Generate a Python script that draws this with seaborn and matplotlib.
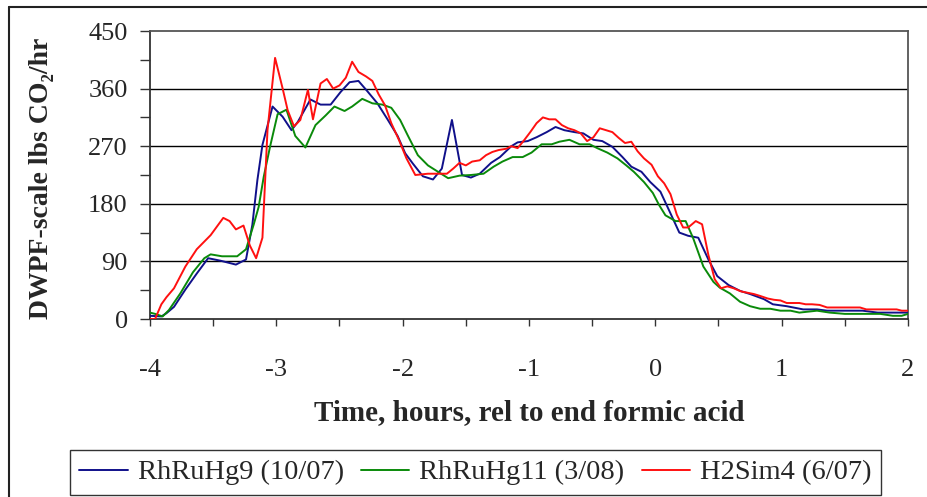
import numpy as np
import pandas as pd
import matplotlib
matplotlib.use("Agg")
import matplotlib.pyplot as plt
import seaborn as sns
from matplotlib.ticker import MultipleLocator
from matplotlib.lines import Line2D

# ---- data ----
series_names = ["RhRuHg9 (10/07)", "RhRuHg11 (3/08)", "H2Sim4 (6/07)"]
series_colors = ["#10108a", "#0a8a0a", "#ff1010"]

blue_x = [-4, -3.91, -3.87, -3.81, -3.72, -3.63, -3.54, -3.44, -3.32, -3.24,
          -3.19, -3.15, -3.11, -3.03, -2.95, -2.88, -2.83, -2.73, -2.65, -2.57,
          -2.49, -2.42, -2.35, -2.28, -2.20, -2.12, -2.04, -1.98, -1.92, -1.84,
          -1.76, -1.69, -1.61, -1.53, -1.46, -1.39, -1.30, -1.23, -1.14, -1.09,
          -1.01, -0.94, -0.86, -0.79, -0.72, -0.64, -0.57, -0.49, -0.42, -0.34,
          -0.26, -0.19, -0.11, -0.04, 0.04, 0.12, 0.19, 0.26, 0.34, 0.42,
          0.49, 0.58, 0.67, 0.75, 0.86, 0.93, 1.04, 1.17, 1.28, 1.36,
          1.64, 1.76, 2.0]
blue_y = [5, 4, 9, 19, 46, 71, 95, 91, 85, 93,
          147, 217, 272, 332, 316, 295, 308, 343, 335, 335,
          355, 370, 372, 356, 337, 312, 286, 259, 243, 223,
          218, 235, 311, 225, 221, 227, 244, 253, 270, 276,
          278, 284, 292, 300, 295, 292, 290, 280, 278, 269,
          253, 238, 230, 214, 199, 165, 135, 130, 127, 93,
          67, 53, 44, 39, 31, 23, 20, 15, 15, 13,
          13, 10, 10]

green_x = [-4, -3.96, -3.90, -3.85, -3.76, -3.66, -3.57, -3.52, -3.43, -3.31,
           -3.24, -3.18, -3.14, -3.10, -3.05, -2.99, -2.92, -2.85, -2.77, -2.69,
           -2.61, -2.54, -2.46, -2.40, -2.32, -2.24, -2.16, -2.09, -2.02, -1.96,
           -1.88, -1.80, -1.72, -1.64, -1.55, -1.46, -1.36, -1.28, -1.21, -1.13,
           -1.05, -0.98, -0.90, -0.82, -0.76, -0.68, -0.60, -0.52, -0.46, -0.38,
           -0.30, -0.23, -0.17, -0.09, -0.02, 0.03, 0.08, 0.16, 0.24, 0.30,
           0.38, 0.46, 0.51, 0.59, 0.67, 0.75, 0.83, 0.91, 0.99, 1.07,
           1.14, 1.28, 1.38, 1.50, 1.78, 1.88, 1.95, 2.0]
green_y = [10, 8, 4, 14, 40, 73, 95, 101, 98, 98,
           109, 147, 175, 222, 269, 320, 327, 286, 268, 303,
           318, 332, 325, 332, 344, 337, 335, 330, 311, 287,
           256, 240, 230, 220, 224, 225, 227, 238, 246, 253,
           253, 260, 273, 273, 277, 280, 273, 273, 267, 260,
           251, 240, 230, 214, 197, 178, 162, 153, 153, 126,
           82, 58, 49, 40, 27, 20, 16, 16, 13, 13,
           10, 13, 10, 8, 8, 5, 5, 8]

red_x = [-4, -3.96, -3.91, -3.87, -3.81, -3.72, -3.63, -3.52, -3.42, -3.37,
         -3.32, -3.26, -3.21, -3.16, -3.11, -3.07, -3.01, -2.95, -2.91, -2.86,
         -2.81, -2.75, -2.71, -2.65, -2.60, -2.55, -2.50, -2.45, -2.40, -2.35,
         -2.29, -2.24, -2.19, -2.14, -2.09, -2.03, -1.97, -1.90, -1.80, -1.73,
         -1.65, -1.60, -1.55, -1.50, -1.45, -1.39, -1.34, -1.29, -1.24, -1.18,
         -1.14, -1.09, -1.04, -0.99, -0.94, -0.89, -0.84, -0.79, -0.74, -0.69,
         -0.64, -0.59, -0.54, -0.49, -0.44, -0.39, -0.34, -0.29, -0.24, -0.19,
         -0.14, -0.09, -0.03, 0.02, 0.07, 0.12, 0.17, 0.22, 0.26, 0.32,
         0.37, 0.42, 0.47, 0.52, 0.57, 0.62, 0.68, 0.73, 0.78, 0.83,
         0.89, 0.94, 0.99, 1.04, 1.09, 1.14, 1.19, 1.24, 1.30, 1.36,
         1.49, 1.62, 1.67, 1.91, 1.95, 2.0]
red_y = [0, 0, 23, 34, 48, 82, 109, 131, 158, 153,
         140, 146, 115, 95, 127, 295, 408, 360, 326, 301,
         311, 358, 312, 368, 375, 360, 365, 377, 402, 386,
         379, 372, 351, 334, 306, 280, 251, 225, 227, 227,
         227, 235, 244, 240, 246, 248, 256, 261, 264, 266,
         270, 267, 279, 292, 306, 315, 312, 312, 303, 298,
         295, 290, 278, 284, 298, 295, 292, 283, 275, 277,
         262, 251, 241, 223, 212, 195, 163, 143, 143, 153,
         148, 100, 62, 48, 51, 48, 43, 41, 39, 36,
         32, 30, 29, 25, 25, 25, 23, 23, 22, 18,
         18, 18, 15, 15, 13, 13]

y_ticks = [0, 90, 180, 270, 360, 450]
x_ticks = [-4, -3, -2, -1, 0, 1, 2]
x_label = "Time, hours, rel to end formic acid"
y_label = "DWPF-scale lbs CO\u2082/hr"

frames = []
for name, xs, ys in zip(series_names, [blue_x, green_x, red_x], [blue_y, green_y, red_y]):
    frames.append(pd.DataFrame({"time": xs, "value": ys, "series": name}))
df = pd.concat(frames, ignore_index=True)

# ---- style ----
sns.set_style("white")
plt.rcParams["font.family"] = ["Liberation Serif", "DejaVu Serif"]

W, H = 927, 497
fig = plt.figure(figsize=(W / 100, H / 100), dpi=100)
ax = fig.add_axes([150 / W, 1 - 319 / H, (908 - 150) / W, (319 - 31) / H])

sns.lineplot(data=df, x="time", y="value", hue="series", hue_order=series_names,
             palette=dict(zip(series_names, series_colors)), estimator=None,
             sort=False, linewidth=1.4, ax=ax, legend=False, zorder=3)

ax.set_xlim(-4, 2)
ax.set_ylim(0, 450)
ax.set_xticks(x_ticks)
ax.set_xticklabels([str(t) for t in x_ticks])
ax.set_yticks(y_ticks)
ax.set_yticklabels([str(t) for t in y_ticks])
ax.xaxis.set_minor_locator(MultipleLocator(0.5))
ax.yaxis.set_minor_locator(MultipleLocator(45))
for yv in y_ticks[1:-1]:
    ax.axhline(yv, color="black", linewidth=1.0, zorder=1)

ax.tick_params(axis="y", which="both", direction="out", length=7, width=1.0,
               color="#333333", left=True)
ax.tick_params(axis="x", which="both", direction="out", length=5, width=1.0,
               color="#333333", bottom=True)
ax.tick_params(axis="y", which="major", labelsize=19, pad=9)
ax.tick_params(axis="x", which="major", labelsize=19, pad=24)

for side in ["left", "bottom"]:
    ax.spines[side].set_color("#333333")
    ax.spines[side].set_linewidth(1.3)
for side in ["top", "right"]:
    ax.spines[side].set_color("#555555")
    ax.spines[side].set_linewidth(1.3)

ax.set_xlabel(x_label, fontsize=21, fontweight="bold")
ax.xaxis.set_label_coords(0.5, (319 - 413) / 288, transform=ax.transAxes)
ax.xaxis.label.set_va("center")
ax.set_ylabel(y_label, fontsize=20, fontweight="bold")
ax.yaxis.set_label_coords((42 - 150) / 758, 0.49, transform=ax.transAxes)
ax.yaxis.label.set_va("center")

handles = [Line2D([0], [0], color=c, linewidth=1.4) for c in series_colors]
leg = fig.legend(handles, series_names, loc="center",
                 bbox_to_anchor=((72 + 879) / 2 / W, 1 - 472.5 / H),
                 ncol=3, fontsize=20.5, frameon=True, fancybox=False,
                 handlelength=1.7, handletextpad=0.35, columnspacing=0.6,
                 borderpad=0.35, borderaxespad=0)
leg.get_frame().set_edgecolor("black")
leg.get_frame().set_linewidth(1.0)

# outer chart border (left and top edges visible)
fig.add_artist(Line2D([8.5 / W, 8.5 / W], [0, 1 - 7 / H], transform=fig.transFigure,
                      color="#222222", linewidth=1.5))
fig.add_artist(Line2D([8.5 / W, 1], [1 - 7 / H, 1 - 7 / H], transform=fig.transFigure,
                      color="#222222", linewidth=1.5))

fig.savefig("out.png", dpi=100)
